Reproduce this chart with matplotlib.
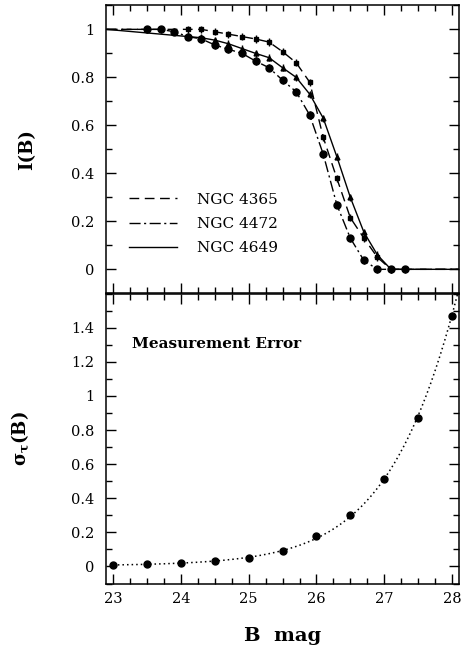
import numpy as np
import matplotlib
matplotlib.use("Agg")
from matplotlib import pyplot as plt
from matplotlib.ticker import MultipleLocator, FuncFormatter

# completeness curves I(B)
mag_4365 = [24.1, 24.3, 24.5, 24.7, 24.9, 25.1, 25.3, 25.5, 25.7, 25.9,
            26.1, 26.3, 26.5, 26.7, 26.9, 27.1]
inc_4365 = [1.0, 1.0, 0.99, 0.98, 0.97, 0.96, 0.947, 0.907, 0.861, 0.78,
            0.55, 0.38, 0.215, 0.13, 0.05, 0.0]

mag_4472 = [23.5, 23.7, 23.9, 24.1, 24.3, 24.5, 24.7, 24.9, 25.1, 25.3,
            25.5, 25.7, 25.9, 26.1, 26.3, 26.5, 26.7, 26.9, 27.1, 27.3]
inc_4472 = [1.0, 1.0, 0.99, 0.97, 0.96, 0.935, 0.917, 0.90, 0.868, 0.84,
            0.788, 0.74, 0.643, 0.48, 0.27, 0.13, 0.037, 0.0, 0.0, 0.0]

mag_4649 = [24.1, 24.3, 24.5, 24.7, 24.9, 25.1, 25.3, 25.5, 25.7, 25.9,
            26.1, 26.3, 26.5, 26.7, 26.9, 27.1]
inc_4649 = [0.97, 0.965, 0.955, 0.94, 0.92, 0.90, 0.882, 0.84, 0.80, 0.73,
            0.63, 0.47, 0.30, 0.155, 0.06, 0.0]

# measurement error
mag_err = [23.0, 23.5, 24.0, 24.5, 25.0, 25.5, 26.0, 26.5, 27.0, 27.5, 28.0]
sigma = [0.008, 0.015, 0.02, 0.03, 0.05, 0.09, 0.18, 0.30, 0.51, 0.87, 1.47]

X_MIN, X_MAX = 22.9, 28.1

plt.rcParams['font.family'] = ['DejaVu Serif']
plt.rcParams['mathtext.fontset'] = 'dejavuserif'

fig = plt.figure(figsize=(4.61, 6.53), dpi=100)
ax1 = fig.add_axes([0.231, 0.5508, 0.764, 0.441])
ax2 = fig.add_axes([0.231, 0.1064, 0.764, 0.444])

fmt = FuncFormatter(lambda v, p: '%g' % round(v, 3))


def style(ax):
    ax.set_xlim(X_MIN, X_MAX)
    ax.xaxis.set_major_locator(MultipleLocator(1))
    ax.xaxis.set_minor_locator(MultipleLocator(0.25))
    ax.yaxis.set_major_locator(MultipleLocator(0.2))
    ax.yaxis.set_minor_locator(MultipleLocator(0.1))
    ax.yaxis.set_major_formatter(fmt)
    ax.tick_params(which='both', direction='in', top=True, right=True,
                   width=1.0, labelsize=10.5)
    ax.tick_params(which='major', length=7.5)
    ax.tick_params(which='minor', length=4)
    ax.tick_params(axis='y', pad=9)
    ax.tick_params(axis='x', pad=6)
    for s in ax.spines.values():
        s.set_linewidth(1.1)


style(ax1)
style(ax2)

# top panel
series = [
    (mag_4365, inc_4365, (0, (7, 4)), 's', 3.2, 'NGC 4365'),
    (mag_4472, inc_4472, (0, (8, 2.5, 1.5, 2.5)), 'o', 5.0, 'NGC 4472'),
    (mag_4649, inc_4649, '-', '^', 3.5, 'NGC 4649'),
]
for m, v, ls, mk, ms, lab in series:
    ax1.plot(np.r_[X_MIN, m, X_MAX], np.r_[1.0, v, 0.0], color='black',
             linestyle=ls, linewidth=1.0, label=lab)
    ax1.errorbar(m, v, yerr=0.015, fmt=mk, color='black', markersize=ms,
                 elinewidth=1.0, capsize=0)

ax1.set_ylim(-0.1, 1.1)
ax1.set_xticklabels([])
ax1.set_ylabel('I(B)', fontsize=13, fontweight='bold')
ax1.yaxis.set_label_coords(-0.2, 0.5)
leg = ax1.legend(loc='upper left', bbox_to_anchor=(0.065, 0.35), frameon=False,
                 fontsize=11, handlelength=3.1, handletextpad=1.3,
                 labelspacing=0.68, borderpad=0, borderaxespad=0)

# bottom panel
fit = np.polyfit(mag_err, np.log(sigma), 3)
xf = np.linspace(mag_err[0], X_MAX, 300)
ax2.plot(xf, np.exp(np.polyval(fit, xf)), color='black', linestyle=(0, (1, 2)),
         linewidth=1.1)
ax2.plot(mag_err, sigma, 'o', color='black', markersize=5)
ax2.set_ylim(-0.1, 1.6)
ax2.set_yticks([0, 0.2, 0.4, 0.6, 0.8, 1.0, 1.2, 1.4])
ax2.text(23.27, 1.305, 'Measurement Error', fontsize=11, fontweight='bold',
         va='center', ha='left')
ax2.set_ylabel(r'$\mathbf{\sigma_\tau}$(B)', fontsize=13, fontweight='bold')
ax2.yaxis.set_label_coords(-0.215, 0.5)
ax2.set_xlabel('B  mag', fontsize=14, fontweight='bold')
ax2.xaxis.set_label_coords(0.5, -0.15)

fig.savefig('out.png', dpi=100)
